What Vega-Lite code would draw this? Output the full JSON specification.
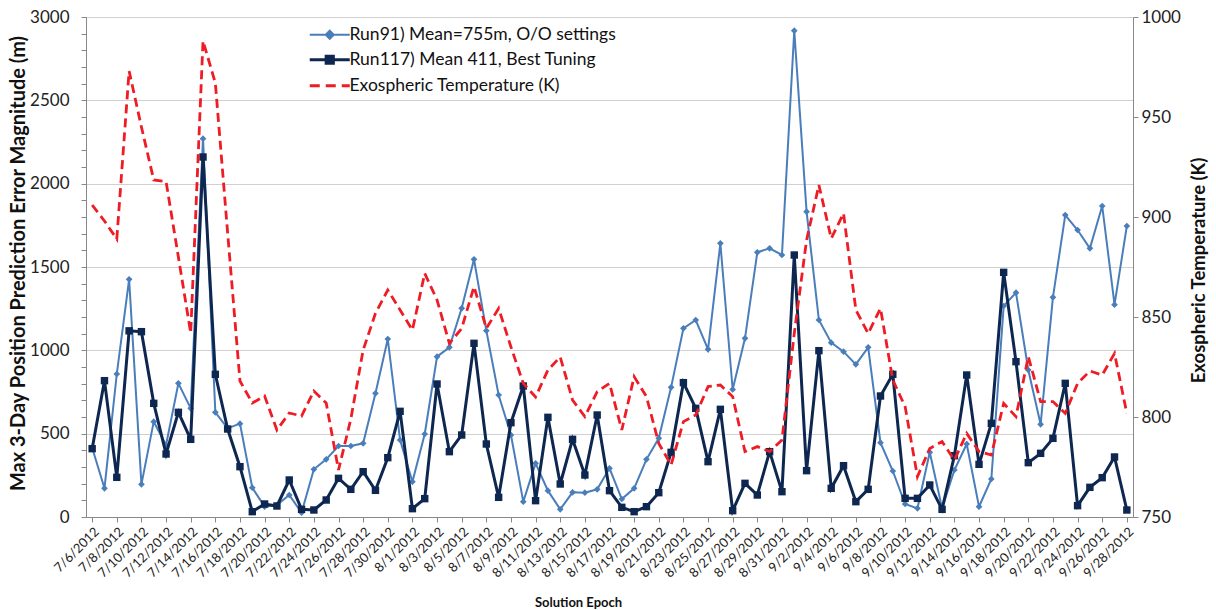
{
  "$schema": "https://vega.github.io/schema/vega-lite/v6.json",
  "width": 1047,
  "height": 500,
  "autosize": {"type": "none"},
  "padding": {"left": 86, "top": 17, "right": 83, "bottom": 93},
  "background": "white",
  "config": {"font": "Lato", "view": {"stroke": null}},
  "data": {"values": [
    {"date": "7/6/2012", "r91": 415, "r117": 410, "temp": 906},
    {"date": "7/7/2012", "r91": 172, "r117": 818, "temp": 898},
    {"date": "7/8/2012", "r91": 858, "r117": 238, "temp": 889},
    {"date": "7/9/2012", "r91": 1426, "r117": 1117, "temp": 973},
    {"date": "7/10/2012", "r91": 196, "r117": 1112, "temp": 945},
    {"date": "7/11/2012", "r91": 572, "r117": 682, "temp": 918.5},
    {"date": "7/12/2012", "r91": 432, "r117": 378, "temp": 917.7},
    {"date": "7/13/2012", "r91": 802, "r117": 628, "temp": 880},
    {"date": "7/14/2012", "r91": 652, "r117": 466, "temp": 842},
    {"date": "7/15/2012", "r91": 2270, "r117": 2160, "temp": 988},
    {"date": "7/16/2012", "r91": 628, "r117": 856, "temp": 967},
    {"date": "7/17/2012", "r91": 532, "r117": 528, "temp": 892},
    {"date": "7/18/2012", "r91": 560, "r117": 302, "temp": 818},
    {"date": "7/19/2012", "r91": 176, "r117": 32, "temp": 807},
    {"date": "7/20/2012", "r91": 62, "r117": 78, "temp": 810.5},
    {"date": "7/21/2012", "r91": 72, "r117": 66, "temp": 793.5},
    {"date": "7/22/2012", "r91": 132, "r117": 222, "temp": 802},
    {"date": "7/23/2012", "r91": 26, "r117": 46, "temp": 800.5},
    {"date": "7/24/2012", "r91": 286, "r117": 42, "temp": 813},
    {"date": "7/25/2012", "r91": 346, "r117": 102, "temp": 807},
    {"date": "7/26/2012", "r91": 426, "r117": 232, "temp": 773.5},
    {"date": "7/27/2012", "r91": 426, "r117": 166, "temp": 799},
    {"date": "7/28/2012", "r91": 442, "r117": 272, "temp": 833.5},
    {"date": "7/29/2012", "r91": 742, "r117": 160, "temp": 851.8},
    {"date": "7/30/2012", "r91": 1068, "r117": 356, "temp": 863.5},
    {"date": "7/31/2012", "r91": 462, "r117": 634, "temp": 853.5},
    {"date": "8/1/2012", "r91": 212, "r117": 50, "temp": 843.5},
    {"date": "8/2/2012", "r91": 498, "r117": 110, "temp": 871.8},
    {"date": "8/3/2012", "r91": 962, "r117": 798, "temp": 858.5},
    {"date": "8/4/2012", "r91": 1018, "r117": 392, "temp": 836.8},
    {"date": "8/5/2012", "r91": 1252, "r117": 492, "temp": 844.3},
    {"date": "8/6/2012", "r91": 1546, "r117": 1042, "temp": 865.2},
    {"date": "8/7/2012", "r91": 1118, "r117": 438, "temp": 844.3},
    {"date": "8/8/2012", "r91": 732, "r117": 118, "temp": 854.3},
    {"date": "8/9/2012", "r91": 492, "r117": 566, "temp": 835},
    {"date": "8/10/2012", "r91": 92, "r117": 786, "temp": 816.8},
    {"date": "8/11/2012", "r91": 322, "r117": 98, "temp": 810},
    {"date": "8/12/2012", "r91": 158, "r117": 598, "temp": 823.5},
    {"date": "8/13/2012", "r91": 46, "r117": 198, "temp": 830},
    {"date": "8/14/2012", "r91": 148, "r117": 466, "temp": 808.5},
    {"date": "8/15/2012", "r91": 146, "r117": 252, "temp": 800.2},
    {"date": "8/16/2012", "r91": 166, "r117": 612, "temp": 812.7},
    {"date": "8/17/2012", "r91": 292, "r117": 158, "temp": 816.8},
    {"date": "8/18/2012", "r91": 108, "r117": 58, "temp": 793.5},
    {"date": "8/19/2012", "r91": 172, "r117": 32, "temp": 820.2},
    {"date": "8/20/2012", "r91": 346, "r117": 62, "temp": 810.2},
    {"date": "8/21/2012", "r91": 472, "r117": 146, "temp": 786.8},
    {"date": "8/22/2012", "r91": 778, "r117": 388, "temp": 776},
    {"date": "8/23/2012", "r91": 1132, "r117": 806, "temp": 797.7},
    {"date": "8/24/2012", "r91": 1182, "r117": 652, "temp": 801},
    {"date": "8/25/2012", "r91": 1006, "r117": 332, "temp": 815.2},
    {"date": "8/26/2012", "r91": 1642, "r117": 646, "temp": 816},
    {"date": "8/27/2012", "r91": 765, "r117": 38, "temp": 810.2},
    {"date": "8/28/2012", "r91": 1072, "r117": 202, "temp": 782.7},
    {"date": "8/29/2012", "r91": 1588, "r117": 132, "temp": 785.2},
    {"date": "8/30/2012", "r91": 1612, "r117": 392, "temp": 782.7},
    {"date": "8/31/2012", "r91": 1572, "r117": 152, "temp": 788.5},
    {"date": "9/1/2012", "r91": 2918, "r117": 1572, "temp": 841.8},
    {"date": "9/2/2012", "r91": 1832, "r117": 278, "temp": 888.5},
    {"date": "9/3/2012", "r91": 1182, "r117": 998, "temp": 916},
    {"date": "9/4/2012", "r91": 1046, "r117": 172, "temp": 889.3},
    {"date": "9/5/2012", "r91": 992, "r117": 308, "temp": 901.8},
    {"date": "9/6/2012", "r91": 916, "r117": 92, "temp": 853.5},
    {"date": "9/7/2012", "r91": 1018, "r117": 166, "temp": 841.8},
    {"date": "9/8/2012", "r91": 446, "r117": 726, "temp": 854.3},
    {"date": "9/9/2012", "r91": 276, "r117": 856, "temp": 818.5},
    {"date": "9/10/2012", "r91": 78, "r117": 112, "temp": 805.2},
    {"date": "9/11/2012", "r91": 52, "r117": 112, "temp": 770.2},
    {"date": "9/12/2012", "r91": 388, "r117": 192, "temp": 784.3},
    {"date": "9/13/2012", "r91": 52, "r117": 46, "temp": 787.7},
    {"date": "9/14/2012", "r91": 282, "r117": 368, "temp": 778.5},
    {"date": "9/15/2012", "r91": 438, "r117": 852, "temp": 791.8},
    {"date": "9/16/2012", "r91": 62, "r117": 316, "temp": 782.7},
    {"date": "9/17/2012", "r91": 228, "r117": 562, "temp": 781},
    {"date": "9/18/2012", "r91": 1266, "r117": 1468, "temp": 806.8},
    {"date": "9/19/2012", "r91": 1346, "r117": 932, "temp": 800.2},
    {"date": "9/20/2012", "r91": 882, "r117": 326, "temp": 830.2},
    {"date": "9/21/2012", "r91": 556, "r117": 382, "temp": 807.7},
    {"date": "9/22/2012", "r91": 1318, "r117": 472, "temp": 807.7},
    {"date": "9/23/2012", "r91": 1812, "r117": 802, "temp": 801.8},
    {"date": "9/24/2012", "r91": 1722, "r117": 68, "temp": 816.8},
    {"date": "9/25/2012", "r91": 1612, "r117": 178, "temp": 823},
    {"date": "9/26/2012", "r91": 1866, "r117": 236, "temp": 821},
    {"date": "9/27/2012", "r91": 1274, "r117": 360, "temp": 831.8},
    {"date": "9/28/2012", "r91": 1746, "r117": 42, "temp": 801.8}
  ]},
  "transform": [{"fold": ["r91", "r117", "temp"], "as": ["series", "value"]}],
  "encoding": {
    "x": {
      "field": "date", "type": "ordinal", "sort": null,
      "scale": {"type": "point", "padding": 0.5},
      "axis": {
        "values": ["7/6/2012","7/8/2012","7/10/2012","7/12/2012","7/14/2012","7/16/2012","7/18/2012","7/20/2012","7/22/2012","7/24/2012","7/26/2012","7/28/2012","7/30/2012","8/1/2012","8/3/2012","8/5/2012","8/7/2012","8/9/2012","8/11/2012","8/13/2012","8/15/2012","8/17/2012","8/19/2012","8/21/2012","8/23/2012","8/25/2012","8/27/2012","8/29/2012","8/31/2012","9/2/2012","9/4/2012","9/6/2012","9/8/2012","9/10/2012","9/12/2012","9/14/2012","9/16/2012","9/18/2012","9/20/2012","9/22/2012","9/24/2012","9/26/2012","9/28/2012"],
        "labelAngle": -45, "labelFontSize": 13, "labelColor": "#222", "labelPadding": 3,
        "domainColor": "#888", "tickColor": "#888", "tickSize": 5, "grid": false,
        "title": "Solution Epoch", "titleFontSize": 13, "titleFontWeight": "bold", "titleColor": "#111",
        "titleX": 492, "titleY": 89, "titleBaseline": "alphabetic", "titleAlign": "center"
      }
    },
    "color": {
      "field": "series", "type": "nominal",
      "scale": {"domain": ["r91", "r117", "temp"], "range": ["#4A7EBB", "#0E2750", "#EE1C25"]},
      "legend": {
        "orient": "none", "legendX": 235, "legendY": 9, "title": null,
        "direction": "vertical", "symbolSize": 1600, "labelFontSize": 17.5, "labelColor": "#111",
        "labelOffset": 11, "rowPadding": 6, "labelLimit": 500,
        "labelExpr": "datum.value === 'r91' ? 'Run91) Mean=755m, O/O settings' : datum.value === 'r117' ? 'Run117) Mean 411, Best Tuning' : 'Exospheric Temperature (K)'",
        "encode": {
          "symbols": {
            "update": {
              "shape": {"signal": "datum.value === 'r91' ? 'M-1,0H1M-0.2,0L0,-0.2L0.2,0L0,0.2Z' : datum.value === 'r117' ? 'M-1,0H1M-0.18,-0.18H0.18V0.18H-0.18Z' : 'M-1,0H1'"},
              "fill": {"signal": "datum.value === 'r91' ? '#4A7EBB' : datum.value === 'r117' ? '#0E2750' : 'transparent'"},
              "stroke": {"signal": "datum.value === 'r91' ? '#4A7EBB' : datum.value === 'r117' ? '#0E2750' : '#EE1C25'"},
              "strokeWidth": {"signal": "datum.value === 'r91' ? 2 : 3"},
              "strokeDash": {"signal": "datum.value === 'temp' ? [10, 6] : []"},
              "opacity": {"value": 1},
              "size": {"value": 1600}
            }
          }
        }
      }
    }
  },
  "layer": [
    {
      "encoding": {
        "y": {
          "field": "value", "type": "quantitative",
          "scale": {"domain": [0, 3000], "nice": false, "zero": true},
          "axis": {
            "values": [0,100,200,300,400,500,600,700,800,900,1000,1100,1200,1300,1400,1500,1600,1700,1800,1900,2000,2100,2200,2300,2400,2500,2600,2700,2800,2900,3000],
            "labelExpr": "datum.value % 500 === 0 ? datum.label : ''",
            "format": "d",
            "grid": true, "gridColor": "#d0d0d0", "gridWidth": 1.2,
            "gridOpacity": {"condition": {"test": "datum.value % 500 === 0", "value": 1}, "value": 0},
            "domainColor": "#888", "tickColor": "#888", "tickSize": 5,
            "labelFontSize": 17, "labelColor": "#222", "labelPadding": 12,
            "title": "Max 3-Day  Position Prediction Error Magnitude (m)",
            "titleFontSize": 20, "titleFontWeight": "bold", "titleColor": "#111",
            "titleAngle": -90, "titleX": -68, "titleY": 246, "titleAlign": "center", "titleBaseline": "middle"
          }
        }
      },
      "layer": [
        {"transform": [{"filter": "datum.series === 'r91'"}], "mark": {"type": "line", "strokeWidth": 2}},
        {"transform": [{"filter": "datum.series === 'r91'"}], "mark": {"type": "point", "shape": "diamond", "filled": true, "size": 45, "opacity": 1}},
        {"transform": [{"filter": "datum.series === 'r117'"}], "mark": {"type": "line", "strokeWidth": 3}},
        {"transform": [{"filter": "datum.series === 'r117'"}], "mark": {"type": "point", "shape": "square", "filled": true, "size": 55, "opacity": 1}}
      ]
    },
    {
      "transform": [{"filter": "datum.series === 'temp'"}],
      "mark": {"type": "line", "strokeWidth": 2.8, "strokeDash": [9, 5]},
      "encoding": {
        "y": {
          "field": "value", "type": "quantitative",
          "scale": {"domain": [750, 1000], "nice": false, "zero": false},
          "axis": {
            "orient": "right", "values": [750, 800, 850, 900, 950, 1000], "format": "d", "grid": false,
            "domainColor": "#888", "tickColor": "#888", "tickSize": 5,
            "labelFontSize": 17, "labelColor": "#222", "labelPadding": 3,
            "title": "Exospheric Temperature (K)", "titleFontSize": 18.5, "titleFontWeight": "bold", "titleColor": "#111",
            "titleAngle": -90, "titleX": 65, "titleY": 253, "titleAlign": "center", "titleBaseline": "middle"
          }
        }
      }
    }
  ],
  "resolve": {"scale": {"y": "independent"}}
}
